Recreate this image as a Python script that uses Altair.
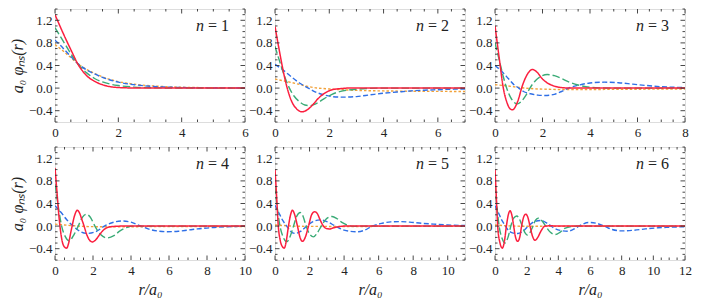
import altair as alt
import pandas as pd

# ---------------- data ----------------
X_MAX = [6, 7, 8, 10, 11, 12]
N_LABELS = ["1", "2", "3", "4", "5", "6"]
Y_TICKS = [-0.4, 0.0, 0.4, 0.8, 1.2]
Y_DOMAIN = [-0.6, 1.4]
X_MAJOR_STEP = 2
X_MINOR_STEP = 0.5
Y_MINOR_STEP = 0.1

# panel n = 1
P1_RED = [(0, 1.30), (0.25, 0.98), (0.5, 0.68), (0.75, 0.40), (1.0, 0.22), (1.25, 0.12),
          (1.5, 0.06), (1.75, 0.025), (2.0, 0.01), (2.5, 0.002), (3.0, 0.0), (6.0, 0.0)]
P1_GREEN = [(0, 1.07), (0.25, 0.84), (0.5, 0.61), (0.75, 0.41), (1.0, 0.27), (1.25, 0.17),
            (1.5, 0.11), (1.75, 0.07), (2.0, 0.045), (2.5, 0.018), (3.0, 0.007), (4.0, 0.001), (6.0, 0.0)]
P1_BLUE = [(0, 0.85), (0.25, 0.71), (0.5, 0.56), (0.75, 0.42), (1.0, 0.32), (1.25, 0.25),
           (1.5, 0.19), (2.0, 0.105), (2.5, 0.06), (3.0, 0.033), (3.5, 0.018), (4.0, 0.01),
           (5.0, 0.003), (6.0, 0.001)]
P1_ORANGE = [(0, 0.77), (0.25, 0.66), (0.5, 0.54), (0.75, 0.42), (1.0, 0.33), (1.25, 0.26),
             (1.5, 0.20), (2.0, 0.115), (2.5, 0.07), (3.0, 0.042), (3.5, 0.025), (4.0, 0.015),
             (5.0, 0.006), (6.0, 0.002)]

# panel n = 2
P2_RED = [(0, 1.09), (0.1, 0.82), (0.2, 0.56), (0.3, 0.31), (0.45, 0.0), (0.6, -0.22),
          (0.8, -0.37), (1.0, -0.42), (1.2, -0.38), (1.4, -0.29), (1.6, -0.18), (1.85, -0.085),
          (2.1, -0.03), (2.4, -0.01), (2.7, 0.0), (7.0, 0.0)]
P2_GREEN = [(0, 0.74), (0.1, 0.58), (0.2, 0.43), (0.35, 0.21), (0.53, 0.0), (0.7, -0.14),
            (0.9, -0.24), (1.1, -0.30), (1.3, -0.31), (1.5, -0.28), (1.8, -0.19), (2.1, -0.11),
            (2.5, -0.05), (3.0, -0.02), (3.5, -0.005), (4.0, 0.0), (7.0, 0.0)]
P2_BLUE = [(0, 0.42), (0.3, 0.32), (0.6, 0.20), (0.9, 0.09), (1.23, 0.0), (1.5, -0.07),
           (1.8, -0.12), (2.1, -0.15), (2.5, -0.16), (3.0, -0.15), (3.5, -0.12), (4.0, -0.09),
           (4.5, -0.07), (5.0, -0.05), (5.5, -0.037), (6.0, -0.028), (6.5, -0.02), (7.0, -0.015)]
P2_ORANGE = [(0, 0.16), (0.3, 0.13), (0.6, 0.10), (0.9, 0.065), (1.2, 0.03), (1.5, 0.005),
             (2.0, -0.015), (2.5, -0.03), (3.0, -0.04), (4.0, -0.05), (5.0, -0.055),
             (6.0, -0.058), (7.0, -0.06)]

# panel n = 3
P3_RED = [(0, 1.10), (0.1, 0.78), (0.2, 0.46), (0.35, 0.0), (0.5, -0.25), (0.62, -0.36),
          (0.74, -0.385), (0.88, -0.31), (1.0, -0.18), (1.12, 0.0), (1.25, 0.15), (1.4, 0.27),
          (1.57, 0.33), (1.75, 0.29), (2.0, 0.16), (2.25, 0.08), (2.5, 0.035), (2.8, 0.01),
          (3.2, 0.0), (8.0, 0.0)]
P3_GREEN = [(0, 0.80), (0.2, 0.46), (0.35, 0.20), (0.49, 0.0), (0.65, -0.16), (0.8, -0.25),
            (0.95, -0.28), (1.1, -0.24), (1.3, -0.13), (1.47, 0.0), (1.7, 0.13), (1.95, 0.21),
            (2.2, 0.24), (2.5, 0.22), (2.8, 0.17), (3.1, 0.11), (3.5, 0.055), (4.0, 0.015),
            (4.5, 0.003), (5.0, 0.0), (8.0, 0.0)]
P3_BLUE = [(0, 0.40), (0.3, 0.29), (0.56, 0.17), (0.8, 0.06), (1.0, 0.0), (1.2, -0.06),
           (1.5, -0.10), (1.8, -0.125), (2.1, -0.13), (2.5, -0.11), (2.8, -0.06), (3.1, 0.0),
           (3.5, 0.05), (4.0, 0.09), (4.6, 0.105), (5.2, 0.095), (5.8, 0.07), (6.4, 0.045),
           (7.0, 0.025), (7.5, 0.015), (8.0, 0.008)]
P3_ORANGE = [(0, 0.06), (0.5, 0.04), (1.0, 0.012), (1.5, -0.008), (2.0, -0.018), (3.0, -0.025),
             (4.0, -0.025), (5.0, -0.022), (6.0, -0.02), (7.0, -0.017), (8.0, -0.015)]

# panel n = 4
P4_RED = [(0, 1.03), (0.1, 0.62), (0.2, 0.20), (0.26, 0.0), (0.38, -0.27), (0.5, -0.37),
          (0.61, -0.39), (0.72, -0.30), (0.82, -0.13), (0.9, 0.0), (1.0, 0.15), (1.1, 0.25),
          (1.18, 0.28), (1.28, 0.24), (1.4, 0.13), (1.53, 0.0), (1.65, -0.13), (1.8, -0.24),
          (1.97, -0.28), (2.15, -0.24), (2.35, -0.15), (2.55, -0.07), (2.8, -0.02),
          (3.1, -0.005), (3.5, 0.0), (10.0, 0.0)]
P4_GREEN = [(0, 0.75), (0.15, 0.40), (0.35, 0.0), (0.55, -0.19), (0.75, -0.26), (1.0, -0.15),
            (1.22, 0.0), (1.45, 0.16), (1.65, 0.21), (1.85, 0.16), (2.1, 0.0), (2.4, -0.15),
            (2.75, -0.21), (3.1, -0.17), (3.4, -0.09), (3.8, -0.02), (4.2, 0.0), (10.0, 0.0)]
P4_BLUE = [(0, 0.36), (0.3, 0.25), (0.6, 0.12), (0.96, 0.0), (1.3, -0.09), (1.7, -0.13),
           (2.2, -0.09), (2.6, 0.0), (3.0, 0.06), (3.56, 0.09), (4.0, 0.07), (4.52, 0.0),
           (5.0, -0.06), (5.5, -0.09), (5.9, -0.10), (6.5, -0.09), (7.0, -0.07), (7.5, -0.05),
           (8.0, -0.035), (8.5, -0.02), (9.0, -0.012), (9.5, -0.007), (10.0, -0.004)]
P4_ORANGE = [(0, 0.035), (0.5, 0.02), (1.0, 0.005), (1.5, -0.005), (2.0, -0.01), (3.0, -0.012),
             (5.0, -0.01), (7.0, -0.008), (10.0, -0.006)]

# panel n = 5
P5_RED = [(0, 1.0), (0.08, 0.60), (0.19, 0.0), (0.3, -0.25), (0.42, -0.36), (0.54, -0.39),
          (0.66, -0.25), (0.78, 0.0), (0.9, 0.20), (1.01, 0.28), (1.12, 0.22), (1.3, 0.0),
          (1.45, -0.20), (1.59, -0.27), (1.75, -0.20), (1.94, 0.0), (2.12, 0.20), (2.29, 0.255),
          (2.45, 0.22), (2.6, 0.12), (2.76, 0.02), (2.95, -0.04), (3.15, -0.05), (3.4, -0.03),
          (3.7, -0.01), (4.0, 0.0), (11.0, 0.0)]
P5_GREEN = [(0, 0.70), (0.12, 0.35), (0.29, 0.0), (0.48, -0.20), (0.68, -0.28), (0.88, -0.18),
            (1.07, 0.0), (1.27, 0.18), (1.46, 0.24), (1.63, 0.17), (1.8, 0.0), (2.0, -0.14),
            (2.23, -0.19), (2.45, -0.12), (2.68, 0.0), (2.95, 0.12), (3.3, 0.17), (3.6, 0.13),
            (3.9, 0.06), (4.2, 0.015), (4.6, -0.005), (5.0, 0.0), (11.0, 0.0)]
P5_BLUE = [(0, 0.37), (0.2, 0.25), (0.45, 0.10), (0.68, 0.0), (0.9, -0.09), (1.17, -0.13),
           (1.5, -0.09), (1.84, 0.0), (2.2, 0.08), (2.62, 0.11), (3.0, 0.08), (3.5, 0.0),
           (4.0, -0.07), (4.76, -0.10), (5.2, -0.07), (5.63, 0.0), (6.2, 0.05), (6.7, 0.075),
           (7.18, 0.08), (7.8, 0.07), (8.5, 0.05), (9.2, 0.035), (10.0, 0.02), (11.0, 0.01)]
P5_ORANGE = [(0, 0.02), (0.5, 0.01), (1.0, 0.0), (2.0, -0.005), (4.0, -0.006), (8.0, -0.005),
             (11.0, -0.004)]

# panel n = 6
P6_RED = [(0, 1.0), (0.07, 0.60), (0.17, 0.0), (0.3, -0.28), (0.46, -0.39), (0.6, -0.26),
          (0.72, 0.0), (0.84, 0.20), (0.95, 0.27), (1.06, 0.20), (1.18, 0.0), (1.3, -0.20),
          (1.43, -0.27), (1.56, -0.20), (1.68, 0.0), (1.81, 0.16), (1.94, 0.21), (2.07, 0.16),
          (2.21, 0.0), (2.37, -0.18), (2.53, -0.25), (2.7, -0.20), (2.9, -0.09), (3.16, 0.0),
          (3.5, 0.005), (4.0, 0.0), (12.0, 0.0)]
P6_GREEN = [(0, 0.72), (0.12, 0.35), (0.26, 0.0), (0.45, -0.22), (0.63, -0.30), (0.82, -0.20),
            (1.0, 0.0), (1.18, 0.14), (1.37, 0.18), (1.55, 0.12), (1.72, 0.0), (1.9, -0.12),
            (2.06, -0.16), (2.22, -0.11), (2.4, 0.0), (2.55, 0.10), (2.72, 0.14), (2.95, 0.10),
            (3.2, 0.0), (3.5, -0.11), (3.8, -0.15), (4.1, -0.11), (4.4, -0.04), (4.8, -0.01),
            (5.2, 0.0), (12.0, 0.0)]
P6_BLUE = [(0, 0.36), (0.2, 0.25), (0.4, 0.12), (0.6, 0.03), (0.8, -0.06), (1.1, -0.12),
           (1.45, -0.13), (1.8, -0.08), (2.1, 0.0), (2.5, 0.08), (2.9, 0.10), (3.3, 0.05),
           (3.7, -0.03), (4.2, -0.08), (4.6, -0.09), (5.0, -0.05), (5.5, 0.03), (5.9, 0.065),
           (6.4, 0.05), (6.9, 0.0), (7.4, -0.06), (8.0, -0.085), (8.7, -0.075), (9.5, -0.05),
           (10.3, -0.03), (11.0, -0.02), (12.0, -0.01)]
P6_ORANGE = [(0, 0.02), (0.5, 0.01), (1.0, 0.002), (2.0, -0.003), (4.0, -0.004), (8.0, -0.003),
             (12.0, -0.002)]

PANELS = [
    [P1_ORANGE, P1_BLUE, P1_GREEN, P1_RED],
    [P2_ORANGE, P2_BLUE, P2_GREEN, P2_RED],
    [P3_ORANGE, P3_BLUE, P3_GREEN, P3_RED],
    [P4_ORANGE, P4_BLUE, P4_GREEN, P4_RED],
    [P5_ORANGE, P5_BLUE, P5_GREEN, P5_RED],
    [P6_ORANGE, P6_BLUE, P6_GREEN, P6_RED],
]

# ---------------- styles ----------------
SERIES_COLORS = ["#f2a23a", "#2f6fe6", "#3aab76", "#fb1f3f"]
SERIES_DASH = [[2.5, 2], [5, 2.5], [7.5, 3], [1, 0]]
SERIES_WIDTH = [1.4, 1.4, 1.4, 1.5]
FONT = "Liberation Serif"
W, H = 190, 113
TICK_MAJOR, TICK_MINOR = 4.5, 2.5
TICK_COLOR = "#333333"


def ticks_between(lo, hi, step):
    out = []
    k = 0
    while True:
        v = round(lo + k * step, 6)
        if v > hi + 1e-9:
            break
        out.append(v)
        k += 1
    return out


def make_panel(i):
    xmax = X_MAX[i]
    row, col = divmod(i, 3)
    xscale = alt.Scale(domain=[0, xmax], nice=False, zero=False)
    yscale = alt.Scale(domain=Y_DOMAIN, nice=False, zero=False)

    x_major = ticks_between(0, xmax, X_MAJOR_STEP)
    x_minor = [v for v in ticks_between(0, xmax, X_MINOR_STEP) if v not in x_major]
    y_minor = [v for v in ticks_between(Y_DOMAIN[0], Y_DOMAIN[1], Y_MINOR_STEP)
               if all(abs(v - t) > 1e-6 for t in Y_TICKS)]

    xaxis = alt.Axis(values=x_major, format="d", ticks=False, domain=False, grid=False,
                     labelFlush=False, labelOverlap=False, labelPadding=4,
                     labelFont=FONT, labelFontSize=13, labelColor="#222",
                     title="r/a₀" if row == 1 else None,
                     titleFont=FONT, titleFontSize=16, titleFontStyle="italic",
                     titleFontWeight="normal", titleColor="#222", titlePadding=4)
    yaxis = alt.Axis(values=Y_TICKS, format=".1f", ticks=False, domain=False, grid=False,
                     labelFlush=False, labelOverlap=False, labelPadding=3,
                     labelFont=FONT, labelFontSize=13, labelColor="#222",
                     title="a₀ φₙₛ(r)" if col == 0 else None,
                     titleFont=FONT, titleFontSize=16, titleFontStyle="italic",
                     titleFontWeight="normal", titleColor="#222", titlePadding=3)

    layers = []
    # curves
    for s, pts in enumerate(PANELS[i]):
        d = pd.DataFrame(pts, columns=["r", "v"])
        layers.append(
            alt.Chart(d).mark_line(color=SERIES_COLORS[s], strokeDash=SERIES_DASH[s],
                                   strokeWidth=SERIES_WIDTH[s], interpolate="monotone",
                                   clip=True)
            .encode(x=alt.X("r:Q", scale=xscale, axis=xaxis),
                    y=alt.Y("v:Q", scale=yscale, axis=yaxis))
        )
    # inward tick marks on all four sides
    for vals, ln in [(x_major, TICK_MAJOR), (x_minor, TICK_MINOR)]:
        d = pd.DataFrame({"r": vals})
        base = alt.Chart(d).mark_rule(color=TICK_COLOR, strokeWidth=0.9)
        layers.append(base.encode(x=alt.X("r:Q", scale=xscale, axis=xaxis),
                                  y=alt.value(H), y2=alt.value(H - ln)))
        layers.append(base.encode(x=alt.X("r:Q", scale=xscale, axis=xaxis),
                                  y=alt.value(0), y2=alt.value(ln)))
    for vals, ln in [(Y_TICKS, TICK_MAJOR), (y_minor, TICK_MINOR)]:
        d = pd.DataFrame({"v": vals})
        base = alt.Chart(d).mark_rule(color=TICK_COLOR, strokeWidth=0.9)
        layers.append(base.encode(y=alt.Y("v:Q", scale=yscale, axis=yaxis),
                                  x=alt.value(0), x2=alt.value(ln)))
        layers.append(base.encode(y=alt.Y("v:Q", scale=yscale, axis=yaxis),
                                  x=alt.value(W), x2=alt.value(W - ln)))

    # panel label "n = k"
    lab = pd.DataFrame({"k": [N_LABELS[i]]})
    layers.append(alt.Chart(lab).mark_text(font=FONT, fontSize=16, align="right",
                                           baseline="alphabetic", color="#222")
                  .encode(text=alt.Text("eq:N"), x=alt.value(W - 16), y=alt.value(22))
                  .transform_calculate(eq="'= ' + datum.k"))
    layers.append(alt.Chart(lab).mark_text(font=FONT, fontSize=16, align="right",
                                           baseline="alphabetic", fontStyle="italic",
                                           color="#222")
                  .encode(text=alt.value("n"), x=alt.value(W - 41), y=alt.value(22)))

    return alt.layer(*layers).properties(width=W, height=H)


chart = alt.concat(
    *[make_panel(i) for i in range(6)],
    columns=3,
    spacing={"row": 25, "column": 30},
    bounds="flush",
).properties(
    padding={"left": 0, "top": 0, "right": 2, "bottom": 0}
).configure_view(
    stroke="#222222", strokeWidth=1.2
).configure(background="white")

chart.save("out.html", embed_options={"renderer": "svg", "actions": False})
